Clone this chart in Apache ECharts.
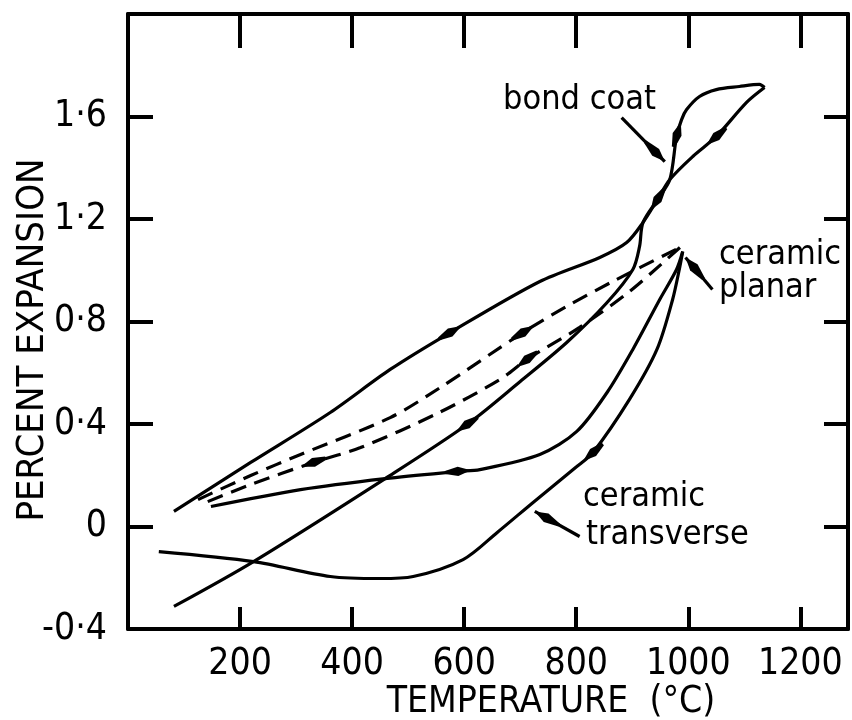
<!DOCTYPE html>
<html><head><meta charset="utf-8">
<script src="https://cdn.jsdelivr.net/npm/echarts@6/dist/echarts.min.js"></script>
<style>html,body{margin:0;padding:0;background:#fff}#c{width:852px;height:720px}</style>
</head><body><div id="c"></div>
<script>
// ---- axis ticks / labels ----
const xTickValues = [200, 400, 600, 800, 1000, 1200];
const xTickLabels = ['200', '400', '600', '800', '1000', '1200'];
const yTickValues = [-0.4, 0, 0.4, 0.8, 1.2, 1.6];
const yTickLabels = ['-0·4', '0', '0·4', '0·8', '1·2', '1·6'];
const xTitle = 'TEMPERATURE  (°C)';
const yTitle = 'PERCENT EXPANSION';

// ---- curves: [temperature °C, percent expansion] ----
const bondCoatHeating = [
  [82, 0.059], [219, 0.25], [361, 0.445], [468, 0.613], [575, 0.757], [735, 0.956],
  [842, 1.05], [890, 1.108], [919, 1.186], [945, 1.276], [967, 1.354], [979, 1.522],
  [988, 1.588], [997, 1.627], [1020, 1.678], [1050, 1.705], [1091, 1.717], [1127, 1.725], [1136, 1.713]
];
const bondCoatCooling = [
  [1136, 1.713], [1104, 1.655], [1050, 1.522], [1008, 1.444], [967, 1.354], [945, 1.276],
  [919, 1.186], [913, 1.093], [901, 1.003], [855, 0.874], [783, 0.718], [700, 0.566],
  [605, 0.398], [459, 0.187], [224, -0.137], [82, -0.312]
];
const planarHeating = [
  [125, 0.105], [219, 0.199], [308, 0.281], [468, 0.425], [557, 0.542], [705, 0.757],
  [783, 0.859], [865, 0.956], [985, 1.089]
];
const planarCooling = [
  [985, 1.089], [895, 0.917], [806, 0.777], [712, 0.652], [664, 0.574], [552, 0.441],
  [415, 0.308], [331, 0.25], [219, 0.164], [130, 0.086]
];
const transverseHeating = [
  [148, 0.078], [308, 0.144], [459, 0.187], [589, 0.215], [628, 0.222], [735, 0.281],
  [801, 0.371], [855, 0.523], [901, 0.691], [949, 0.886], [979, 1.003], [990, 1.073]
];
const transverseCooling = [
  [990, 1.073], [985, 1.015], [972, 0.886], [944, 0.691], [895, 0.496], [830, 0.289],
  [801, 0.234], [723, 0.094], [659, -0.023], [598, -0.129], [509, -0.195], [450, -0.203],
  [361, -0.195], [224, -0.137], [55, -0.098]
];

// direction arrows on curves: [T, E, towardT, towardE]
const curveArrows = [
  [575, 0.757, 735, 0.956],
  [980, 1.53, 988, 1.588],
  [1050, 1.522, 1008, 1.444],
  [945, 1.276, 919, 1.186],
  [605, 0.398, 459, 0.187],
  [589, 0.215, 628, 0.222],
  [830, 0.289, 801, 0.234],
  [705, 0.757, 783, 0.859],
  [712, 0.652, 664, 0.574],
  [331, 0.25, 219, 0.164]
];
// label pointers: [fromT, fromE, toT, toE]
const labelPointers = [
  [881, 1.596, 958, 1.424],
  [1043, 0.925, 995, 1.05],
  [806, -0.039, 726, 0.059]
];
const labelTexts = ['bond coat', 'ceramic', 'planar', 'ceramic', 'transverse'];

const NARROW = "'Liberation Sans Narrow', 'DejaVu Sans Condensed', sans-serif";
const COND = "'DejaVu Sans Condensed', 'DejaVu Sans', sans-serif";

function lookup(vals, labels, v) {
  for (let i = 0; i < vals.length; i++) if (Math.abs(vals[i] - v) < 1e-6) return labels[i];
  return '';
}

const chart = echarts.init(document.getElementById('c'), null, {renderer: 'canvas'});

const axisLineStyle = {color: '#000', width: 4};
function xAx(pos, tickLen, showLabel) {
  return {
    type: 'value', position: pos, min: 0, max: 1285, interval: 200,
    axisLine: {show: true, onZero: false, lineStyle: axisLineStyle},
    axisTick: {show: true, inside: true, length: tickLen, lineStyle: {color: '#000', width: 4}},
    axisLabel: {show: showLabel, margin: 17, color: '#000', fontSize: 37, fontFamily: NARROW,
      formatter: v => lookup(xTickValues, xTickLabels, v)},
    splitLine: {show: false}
  };
}
function yAx(pos, tickLen, showLabel) {
  return {
    type: 'value', position: pos, min: -0.4, max: 2.0, interval: 0.4,
    axisLine: {show: true, onZero: false, lineStyle: axisLineStyle},
    axisTick: {show: true, inside: true, length: tickLen, lineStyle: {color: '#000', width: 4}},
    axisLabel: {show: showLabel, margin: 21, color: '#000', fontSize: 37, fontFamily: NARROW,
      formatter: v => lookup(yTickValues, yTickLabels, v)},
    splitLine: {show: false}
  };
}

function lineSeries(data, dashed) {
  return {
    type: 'line', data: data, showSymbol: false, symbol: 'none', smooth: 0.3,
    lineStyle: {color: '#000', width: 3.2, type: dashed ? [16, 9] : 'solid', cap: 'butt'},
    silent: true, z: 3
  };
}

function dart(p, q, len, back, half) {
  const dx = q[0] - p[0], dy = q[1] - p[1];
  const L = Math.hypot(dx, dy) || 1;
  const ux = dx / L, uy = dy / L, nx = -uy, ny = ux;
  return [
    [p[0] + ux * len, p[1] + uy * len],
    [p[0] + nx * half, p[1] + ny * half],
    [p[0] - ux * back + nx * 1.6, p[1] - uy * back + ny * 1.6],
    [p[0] - ux * back - nx * 1.6, p[1] - uy * back - ny * 1.6],
    [p[0] - nx * half, p[1] - ny * half]
  ];
}

const option = {
  animation: false,
  backgroundColor: '#fff',
  grid: {left: 128, right: 4, top: 14, bottom: 91, containLabel: false, outerBoundsMode: 'none'},
  xAxis: [xAx('bottom', 22, true), xAx('top', 34, false)],
  yAxis: [yAx('left', 25, true), yAx('right', 24, false)],
  series: [
    lineSeries(bondCoatHeating, false),
    lineSeries(bondCoatCooling, false),
    lineSeries(planarHeating, true),
    lineSeries(planarCooling, true),
    lineSeries(transverseHeating, false),
    lineSeries(transverseCooling, false),
    {
      type: 'custom', data: curveArrows, encode: {x: [0, 2], y: [1, 3]}, silent: true, z: 5,
      renderItem: (params, api) => {
        const p = api.coord([api.value(0), api.value(1)]);
        const q = api.coord([api.value(2), api.value(3)]);
        return {type: 'polygon', shape: {points: dart(p, q, 13, 13, 4.6)}, style: {fill: '#000'}};
      }
    },
    {
      type: 'custom', data: labelPointers, encode: {x: [0, 2], y: [1, 3]}, silent: true, z: 5,
      renderItem: (params, api) => {
        const a = api.coord([api.value(0), api.value(1)]);
        const b = api.coord([api.value(2), api.value(3)]);
        const dx = b[0] - a[0], dy = b[1] - a[1];
        const L = Math.hypot(dx, dy);
        const c = [b[0] - dx / L * 13, b[1] - dy / L * 13];
        return {type: 'group', children: [
          {type: 'line', shape: {x1: a[0], y1: a[1], x2: b[0], y2: b[1]}, style: {stroke: '#000', lineWidth: 3.2}},
          {type: 'polygon', shape: {points: dart(c, b, 13, 15, 4.8)}, style: {fill: '#000'}}
        ]};
      }
    }
  ],
  graphic: [
    {type: 'text', style: {text: yTitle, x: 0, y: 0, fill: '#000', font: '38px ' + NARROW, align: 'center', verticalAlign: 'middle'},
      x: 33, y: 340, rotation: Math.PI / 2},
    {type: 'text', style: {text: xTitle, x: 551, y: 702, fill: '#000', font: '37px ' + NARROW, align: 'center', verticalAlign: 'middle'}},
    {type: 'text', style: {text: labelTexts[0], x: 503, y: 100, fill: '#000', font: '34px ' + COND, align: 'left', verticalAlign: 'middle'}},
    {type: 'text', style: {text: labelTexts[1], x: 719, y: 255, fill: '#000', font: '34px ' + COND, align: 'left', verticalAlign: 'middle'}},
    {type: 'text', style: {text: labelTexts[2], x: 719, y: 288, fill: '#000', font: '34px ' + COND, align: 'left', verticalAlign: 'middle'}},
    {type: 'text', style: {text: labelTexts[3], x: 583, y: 497, fill: '#000', font: '34px ' + COND, align: 'left', verticalAlign: 'middle'}},
    {type: 'text', style: {text: labelTexts[4], x: 586, y: 535, fill: '#000', font: '34px ' + COND, align: 'left', verticalAlign: 'middle'}}
  ]
};
chart.setOption(option);
</script>
</body></html>
